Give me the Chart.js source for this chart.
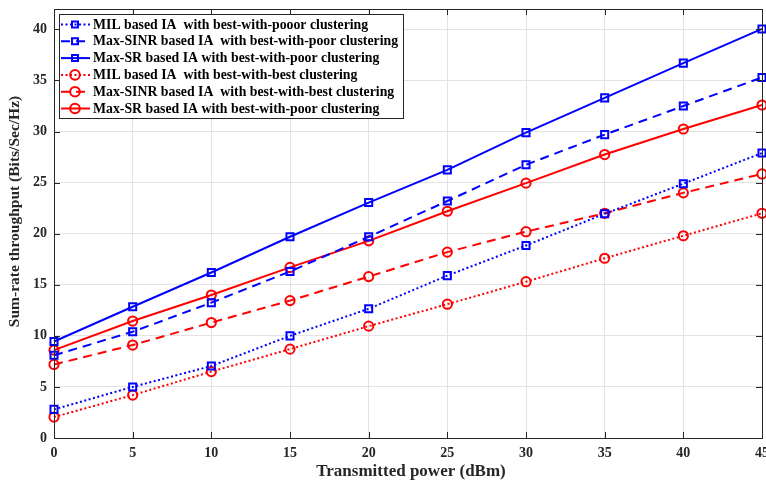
<!DOCTYPE html>
<html>
<head>
<meta charset="utf-8">
<script src="https://cdn.jsdelivr.net/npm/chart.js@4/dist/chart.umd.min.js"></script>
<style>
html,body{margin:0;padding:0;background:#fff;}
#wrap{width:766px;height:482px;position:relative;}
</style>
</head>
<body>
<div id="wrap"><canvas id="c" width="766" height="482"></canvas></div>
<script>
const xValues = [0, 5, 10, 15, 20, 25, 30, 35, 40, 45];
const xTicks = [0, 5, 10, 15, 20, 25, 30, 35, 40, 45];
const yTicks = [0, 5, 10, 15, 20, 25, 30, 35, 40];
const xTitle = 'Transmitted power (dBm)';
const yTitle = 'Sum-rate throughput (Bits/Sec/Hz)';

const milPoor    = [2.8, 5.0, 7.05, 10.0, 12.65, 15.9, 18.85, 21.95, 24.9, 27.9];
const sinrPoor   = [8.1, 10.4, 13.25, 16.3, 19.7, 23.2, 26.75, 29.7, 32.5, 35.3];
const srPoor     = [9.45, 12.85, 16.2, 19.7, 23.05, 26.25, 29.9, 33.3, 36.7, 40.05];
const milBest    = [2.05, 4.2, 6.5, 8.7, 10.95, 13.1, 15.3, 17.6, 19.8, 22.0];
const sinrBest   = [7.2, 9.1, 11.3, 13.45, 15.8, 18.2, 20.2, 22.0, 24.0, 25.85];
const srBest2    = [8.6, 11.45, 14.0, 16.7, 19.3, 22.2, 24.95, 27.75, 30.25, 32.6];

const labels = [
  'MIL based IA  with best-with-pooor clustering',
  'Max-SINR based IA  with best-with-poor clustering',
  'Max-SR based IA with best-with-poor clustering',
  'MIL based IA  with best-with-best clustering',
  'Max-SINR based IA  with best-with-best clustering',
  'Max-SR based IA with best-with-poor clustering'
];

const BLUE = '#0000ff', RED = '#ff0000';
const DOT = [2, 2.5], DASH = [9, 6], SOLID = [];

function ds(label, vals, color, dash, shape) {
  return {
    label: label,
    data: xValues.map((x, i) => ({x: x, y: vals[i]})),
    borderColor: color,
    backgroundColor: 'rgba(0,0,0,0)',
    borderWidth: 2,
    borderDash: dash,
    pointStyle: shape,
    pointRadius: shape === 'rect' ? 5 : 4.6,
    pointBorderWidth: 2,
    pointBorderColor: color,
    pointBackgroundColor: 'rgba(0,0,0,0)',
    tension: 0,
    fill: false,
    clip: 8
  };
}

const datasets = [
  ds(labels[0], milPoor, BLUE, DOT, 'rect'),
  ds(labels[1], sinrPoor, BLUE, DASH, 'rect'),
  ds(labels[2], srPoor, BLUE, SOLID, 'rect'),
  ds(labels[3], milBest, RED, DOT, 'circle'),
  ds(labels[4], sinrBest, RED, DASH, 'circle'),
  ds(labels[5], srBest2, RED, SOLID, 'circle')
];

const FONT = '"Liberation Serif", "Times New Roman", serif';

const boxPlugin = {
  id: 'boxPlugin',
  afterDraw(chart) {
    const ctx = chart.ctx;
    const a = chart.chartArea;
    const xs = chart.scales.x, ys = chart.scales.y;
    ctx.save();
    ctx.strokeStyle = '#262626';
    ctx.lineWidth = 1;
    ctx.setLineDash([]);
    ctx.strokeRect(Math.round(a.left) + 0.5, Math.round(a.top) + 0.5, Math.round(a.right - a.left), Math.round(a.bottom - a.top));
    const tl = 6;
    ctx.beginPath();
    xTicks.forEach(v => {
      const px = Math.round(xs.getPixelForValue(v)) + 0.5;
      ctx.moveTo(px, a.bottom); ctx.lineTo(px, a.bottom - tl);
      ctx.moveTo(px, a.top); ctx.lineTo(px, a.top + tl);
    });
    yTicks.forEach(v => {
      const py = Math.round(ys.getPixelForValue(v)) + 0.5;
      ctx.moveTo(a.left, py); ctx.lineTo(a.left + tl, py);
      ctx.moveTo(a.right, py); ctx.lineTo(a.right - tl, py);
    });
    ctx.stroke();

    // axis titles
    ctx.fillStyle = '#262626';
    ctx.textAlign = 'center';
    ctx.textBaseline = 'middle';
    ctx.font = 'bold 17px ' + FONT;
    ctx.fillText(xTitle, 411, 472);
    ctx.save();
    ctx.translate(15, 211.5);
    ctx.rotate(-Math.PI / 2);
    ctx.font = 'bold 15.5px ' + FONT;
    ctx.fillText(yTitle, 0, 0);
    ctx.restore();

    // legend
    const lx = 59, ly = 14, lw = 344, lh = 104;
    ctx.fillStyle = '#ffffff';
    ctx.fillRect(lx, ly, lw, lh);
    ctx.strokeStyle = '#262626';
    ctx.lineWidth = 1;
    ctx.strokeRect(lx + 0.5, ly + 0.5, lw, lh);
    ctx.font = 'bold 13.8px ' + FONT;
    ctx.textBaseline = 'middle';
    ctx.textAlign = 'left';
    chart.data.datasets.forEach((d, i) => {
      const cy = ly + 10.5 + i * 16.8;
      const mx = lx + 16;
      ctx.strokeStyle = d.borderColor;
      ctx.lineWidth = 2;
      ctx.setLineDash(d.borderDash);
      ctx.beginPath();
      ctx.moveTo(lx + 2, cy); ctx.lineTo(lx + 31, cy);
      ctx.stroke();
      ctx.setLineDash([]);
      ctx.beginPath();
      if (d.pointStyle === 'rect') {
        ctx.rect(mx - 3, cy - 3, 6, 6);
      } else {
        ctx.arc(mx, cy, 4.8, 0, Math.PI * 2);
      }
      ctx.stroke();
      ctx.fillStyle = '#000';
      ctx.fillText(d.label, lx + 34, cy + 0.5);
    });
    ctx.restore();
  }
};

const zeroPad = () => ({left: 0, top: 0, right: 0, bottom: 0});

new Chart(document.getElementById('c'), {
  type: 'line',
  data: { datasets: datasets },
  options: {
    responsive: false,
    animation: false,
    devicePixelRatio: 1,
    layout: { autoPadding: false, padding: { left: 0, right: 4, top: 9, bottom: 0 } },
    plugins: { legend: { display: false }, tooltip: { enabled: false } },
    scales: {
      x: {
        type: 'linear',
        min: 0, max: 45,
        afterBuildTicks: s => { s.ticks = xTicks.map(v => ({value: v})); },
        afterFit: s => { s.height = 44; s.paddingLeft = 0; s.paddingRight = 0; s.getPadding = zeroPad; },
        grid: { color: '#e3e3e3', lineWidth: 1, drawTicks: false },
        border: { display: false },
        ticks: { padding: 7, color: '#262626', font: { family: FONT, size: 14, weight: 'bold' }, maxRotation: 0 },
        title: { display: false }
      },
      y: {
        type: 'linear',
        min: 0, max: 42,
        afterBuildTicks: s => { s.ticks = yTicks.map(v => ({value: v})); },
        afterFit: s => { s.width = 54; s.paddingTop = 0; s.paddingBottom = 0; s.getPadding = zeroPad; },
        grid: { color: '#e3e3e3', lineWidth: 1, drawTicks: false },
        border: { display: false },
        ticks: { padding: 7, color: '#262626', font: { family: FONT, size: 14, weight: 'bold' } },
        title: { display: false }
      }
    }
  },
  plugins: [boxPlugin]
});
</script>
</body>
</html>
